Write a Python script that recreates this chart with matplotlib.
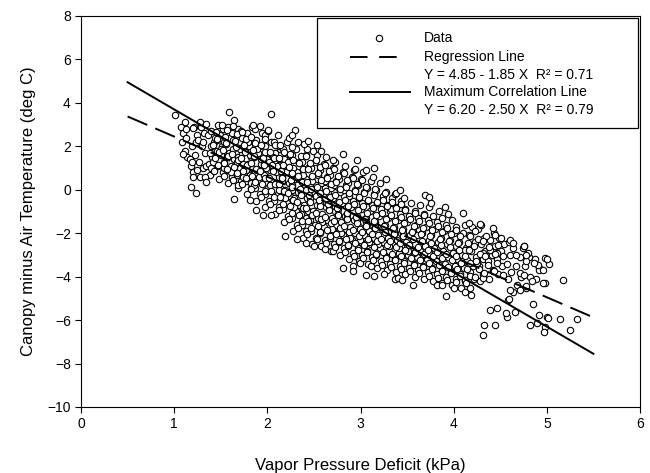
import matplotlib
matplotlib.use("Agg")
import matplotlib.pyplot as plt
from matplotlib.patches import Rectangle
from matplotlib.lines import Line2D

plt.rcParams['font.family'] = ['Liberation Sans', 'DejaVu Sans']

# vapor pressure deficit (kPa)
vpd = [
    1.08, 1.12, 1.10, 1.14, 1.07, 1.13,
    1.18, 1.22, 1.19, 1.24, 1.21, 1.17, 1.23, 1.20,
    1.28, 1.31, 1.27, 1.33, 1.30, 1.26, 1.32, 1.29, 1.34, 1.31,
    1.38, 1.42, 1.37, 1.41, 1.44, 1.39, 1.43, 1.36, 1.40, 1.42, 1.38, 1.44,
    1.48, 1.52, 1.47, 1.53, 1.50, 1.46, 1.51, 1.54, 1.49, 1.52, 1.47, 1.53, 1.50, 1.46,
    1.58, 1.62, 1.57, 1.61, 1.64, 1.59, 1.63, 1.56, 1.60, 1.62, 1.58, 1.64, 1.57, 1.61, 1.63,
    1.68, 1.72, 1.67, 1.71, 1.74, 1.69, 1.73, 1.66, 1.70, 1.72, 1.68, 1.74, 1.67, 1.71, 1.73, 1.69,
    1.78, 1.82, 1.77, 1.81, 1.84, 1.79, 1.83, 1.76, 1.80, 1.82, 1.78, 1.84, 1.77, 1.81, 1.83, 1.79,
    1.88, 1.92, 1.87, 1.91, 1.94, 1.89, 1.93, 1.86, 1.90, 1.92, 1.88, 1.94, 1.87, 1.91, 1.93, 1.89, 1.86,
    1.98, 2.02, 1.97, 2.01, 2.04, 1.99, 2.03, 1.96, 2.00, 2.02, 1.98, 2.04, 1.97, 2.01, 2.03, 1.99, 2.02, 1.96,
    2.08, 2.12, 2.07, 2.11, 2.14, 2.09, 2.13, 2.06, 2.10, 2.12, 2.08, 2.14, 2.07, 2.11, 2.13, 2.09, 2.06, 2.12,
    2.18, 2.22, 2.17, 2.21, 2.24, 2.19, 2.23, 2.16, 2.20, 2.22, 2.18, 2.24, 2.17, 2.21, 2.23, 2.19, 2.16, 2.22,
    2.28, 2.32, 2.27, 2.31, 2.34, 2.29, 2.33, 2.26, 2.30, 2.32, 2.28, 2.34, 2.27, 2.31, 2.33, 2.29, 2.26, 2.32,
    2.38, 2.42, 2.37, 2.41, 2.44, 2.39, 2.43, 2.36, 2.40, 2.42, 2.38, 2.44, 2.37, 2.41, 2.43, 2.39, 2.36, 2.42,
    2.48, 2.52, 2.47, 2.51, 2.54, 2.49, 2.53, 2.46, 2.50, 2.52, 2.48, 2.54, 2.47, 2.51, 2.53, 2.49, 2.46, 2.52,
    2.58, 2.62, 2.57, 2.61, 2.64, 2.59, 2.63, 2.56, 2.60, 2.62, 2.58, 2.64, 2.57, 2.61, 2.63, 2.59, 2.56, 2.62,
    2.68, 2.72, 2.67, 2.71, 2.74, 2.69, 2.73, 2.66, 2.70, 2.72, 2.68, 2.74, 2.67, 2.71, 2.73, 2.69, 2.66, 2.72,
    2.78, 2.82, 2.77, 2.81, 2.84, 2.79, 2.83, 2.76, 2.80, 2.82, 2.78, 2.84, 2.77, 2.81, 2.83, 2.79, 2.76, 2.82,
    2.88, 2.92, 2.87, 2.91, 2.94, 2.89, 2.93, 2.86, 2.90, 2.92, 2.88, 2.94, 2.87, 2.91, 2.93, 2.89, 2.86,
    2.98, 3.02, 2.97, 3.01, 3.04, 2.99, 3.03, 2.96, 3.00, 3.02, 2.98, 3.04, 2.97, 3.01, 3.03, 2.99, 2.96,
    3.08, 3.12, 3.07, 3.11, 3.14, 3.09, 3.13, 3.06, 3.10, 3.12, 3.08, 3.14, 3.07, 3.11, 3.13, 3.09, 3.06,
    3.18, 3.22, 3.17, 3.21, 3.24, 3.19, 3.23, 3.16, 3.20, 3.22, 3.18, 3.24, 3.17, 3.21, 3.19, 3.16,
    3.28, 3.32, 3.27, 3.31, 3.34, 3.29, 3.33, 3.26, 3.30, 3.32, 3.28, 3.34, 3.27, 3.31, 3.26, 3.33,
    3.38, 3.42, 3.37, 3.41, 3.44, 3.39, 3.43, 3.36, 3.40, 3.42, 3.38, 3.44, 3.37, 3.41, 3.36,
    3.48, 3.52, 3.47, 3.51, 3.54, 3.49, 3.53, 3.46, 3.50, 3.52, 3.48, 3.54, 3.47, 3.51, 3.46,
    3.58, 3.62, 3.57, 3.61, 3.64, 3.59, 3.63, 3.56, 3.60, 3.62, 3.58, 3.64, 3.57, 3.61,
    3.68, 3.72, 3.67, 3.71, 3.74, 3.69, 3.73, 3.66, 3.70, 3.72, 3.68, 3.74, 3.67,
    3.78, 3.82, 3.77, 3.81, 3.84, 3.79, 3.83, 3.76, 3.80, 3.82, 3.78, 3.84,
    3.88, 3.92, 3.87, 3.91, 3.94, 3.89, 3.93, 3.86, 3.90, 3.92, 3.88, 3.94,
    3.98, 4.02, 3.97, 4.01, 4.04, 3.99, 4.03, 3.96, 4.00, 4.02, 3.98,
    4.08, 4.12, 4.07, 4.11, 4.14, 4.09, 4.13, 4.06, 4.10, 4.12,
    4.18, 4.22, 4.17, 4.21, 4.24, 4.19, 4.23, 4.16, 4.20,
    4.28, 4.32, 4.27, 4.31, 4.34, 4.29, 4.33, 4.26,
    4.38, 4.42, 4.37, 4.41, 4.44, 4.39, 4.43,
    4.48, 4.52, 4.47, 4.51, 4.54, 4.49,
    4.58, 4.62, 4.57, 4.61, 4.64, 4.59,
    4.68, 4.72, 4.67, 4.71, 4.74,
    4.78, 4.82, 4.77, 4.81,
    4.88, 4.92, 4.87,
    4.98, 5.02,
    # scattered points outside the main band
    1.01, 1.12, 1.13, 1.20, 1.28, 1.34, 1.59, 1.51, 1.63, 1.09,
    1.19, 1.39, 1.33, 1.34, 1.20, 1.18, 1.23, 1.64, 1.25,
    2.04, 1.72, 1.85, 1.92, 2.01, 2.30, 2.26, 2.44, 2.53, 2.58,
    2.81, 2.71, 2.96, 3.15, 3.06, 2.94, 3.27, 3.38,
    1.81, 1.88, 1.95, 2.04, 2.19, 2.32, 2.41, 2.50, 2.62, 2.71,
    2.81, 2.92, 2.92, 3.06, 3.15, 3.25, 3.37, 3.11, 2.99,
    3.42, 3.69, 3.74, 3.76, 3.91, 4.10, 4.16, 3.40, 3.45, 3.56,
    3.82, 3.87, 3.92, 4.00, 4.12, 4.19,
    4.29, 4.23, 4.42, 4.35, 4.44, 4.51, 4.60, 4.64, 4.76, 4.80,
    4.98, 4.92, 4.78, 4.71, 4.53, 4.46, 4.39, 4.32, 4.17, 4.14,
    4.25, 4.32, 4.42, 4.53, 4.12, 4.64, 4.60, 4.58, 4.71, 4.85,
    4.39, 4.46, 4.33, 4.44, 4.32, 4.82, 4.89, 4.98, 4.92, 5.00,
    5.17, 5.00, 4.96, 5.14, 5.32, 5.25, 4.97, 4.57, 4.56, 4.66,
    4.59, 4.78, 4.75, 4.91, 4.96, 4.86, 4.78, 4.75, 4.67, 4.84,
    4.28, 4.12, 5.01,
]

# canopy minus air temperature (deg C)
dtemp = [
    2.2, 1.8, 2.6, 1.5, 2.9, 2.4,
    1.1, 1.6, 2.0, 2.5, 2.9, 1.4, 2.2, 0.8,
    0.6, 1.0, 1.3, 1.7, 2.0, 2.3, 2.6, 2.9, 1.1, 2.2,
    0.7, 0.9, 1.2, 1.5, 1.8, 2.0, 2.2, 2.5, 2.7, 1.3, 1.7, 2.4,
    0.5, 0.8, 1.1, 1.3, 1.6, 1.8, 2.0, 2.2, 2.5, 2.8, 3.0, 1.0, 1.9, 2.3,
    0.3, 0.6, 0.9, 1.1, 1.4, 1.7, 1.9, 2.1, 2.4, 2.6, 2.9, 3.2, 1.5, 0.8, 2.3,
    0.1, 0.4, 0.7, 1.0, 1.2, 1.5, 1.7, 2.0, 2.2, 2.5, 2.8, 0.6, 1.3, 1.9, 2.4, 0.2,
    -0.2, 0.1, 0.4, 0.7, 1.0, 1.2, 1.5, 1.8, 2.0, 2.3, 2.6, 2.9, 0.9, 1.6, 0.3, 2.2,
    -0.5, -0.2, 0.1, 0.4, 0.7, 0.9, 1.2, 1.5, 1.7, 2.0, 2.3, 2.6, 2.8, 0.6, 1.4, 1.9, 0.2,
    -0.8, -0.5, -0.2, 0.1, 0.4, 0.6, 0.9, 1.2, 1.4, 1.7, 2.0, 2.2, 2.5, 2.7, 0.2, 1.0, 1.3, 0.7,
    -1.1, -0.8, -0.5, -0.2, 0.1, 0.3, 0.6, 0.9, 1.1, 1.4, 1.7, 1.9, 2.2, 2.5, 0.0, 0.8, 1.5, 2.0,
    -1.5, -1.2, -0.9, -0.6, -0.3, 0.0, 0.3, 0.6, 0.8, 1.1, 1.4, 1.6, 1.9, 2.2, 2.4, -0.4, 0.4, 1.3,
    -1.9, -1.6, -1.3, -1.0, -0.7, -0.4, -0.1, 0.2, 0.5, 0.8, 1.0, 1.3, 1.6, 1.9, 2.2, -0.8, 0.0, 0.6,
    -2.2, -1.9, -1.6, -1.3, -1.0, -0.7, -0.4, -0.1, 0.2, 0.5, 0.7, 1.0, 1.3, 1.6, 1.9, 2.1, -1.1, 0.0,
    -2.5, -2.2, -1.9, -1.6, -1.3, -1.0, -0.7, -0.4, -0.1, 0.2, 0.4, 0.7, 1.0, 1.3, 1.6, 1.8, -1.4, -0.3,
    -2.6, -2.3, -2.0, -1.7, -1.4, -1.1, -0.8, -0.5, -0.2, 0.1, 0.3, 0.6, 0.9, 1.2, 1.5, -1.5, -0.6, 0.4,
    -2.8, -2.5, -2.2, -1.9, -1.6, -1.3, -1.0, -0.7, -0.4, -0.1, 0.1, 0.4, 0.7, 1.0, 1.3, -1.8, -0.9, 0.2,
    -3.0, -2.7, -2.4, -2.1, -1.8, -1.5, -1.2, -0.9, -0.6, -0.3, -0.1, 0.2, 0.5, 0.8, 1.1, -2.0, -1.1, 0.0,
    -3.2, -2.9, -2.6, -2.3, -2.0, -1.7, -1.4, -1.1, -0.8, -0.5, -0.3, 0.0, 0.3, 0.6, 0.9, -2.2, -1.3,
    -3.3, -3.0, -2.7, -2.4, -2.1, -1.8, -1.5, -1.2, -0.9, -0.6, -0.4, -0.1, 0.2, 0.5, 0.8, -2.3, -1.4,
    -3.4, -3.1, -2.8, -2.5, -2.2, -1.9, -1.6, -1.3, -1.0, -0.7, -0.5, -0.2, 0.1, 0.4, 0.6, -2.4, -1.5,
    -3.6, -3.3, -3.0, -2.7, -2.4, -2.1, -1.8, -1.5, -1.2, -0.9, -0.6, -0.3, 0.0, 0.3, -2.5, -1.6,
    -3.7, -3.4, -3.1, -2.8, -2.5, -2.2, -1.9, -1.6, -1.3, -1.0, -0.7, -0.4, -0.1, -2.6, -1.8, -0.9,
    -3.8, -3.5, -3.2, -2.9, -2.6, -2.3, -2.0, -1.7, -1.4, -1.1, -0.8, -0.5, -0.2, -2.7, -1.9,
    -3.9, -3.6, -3.3, -3.0, -2.7, -2.4, -2.1, -1.8, -1.5, -1.2, -0.9, -0.6, -0.4, -2.8, -2.0,
    -4.0, -3.7, -3.4, -3.1, -2.8, -2.5, -2.2, -1.9, -1.6, -1.3, -1.0, -0.7, -2.9, -2.1,
    -4.1, -3.8, -3.5, -3.2, -2.9, -2.6, -2.3, -2.0, -1.7, -1.4, -1.1, -0.8, -3.0,
    -4.2, -3.9, -3.6, -3.3, -3.0, -2.7, -2.4, -2.1, -1.8, -1.5, -1.2, -1.0,
    -4.3, -4.0, -3.7, -3.4, -3.1, -2.8, -2.5, -2.2, -1.9, -1.6, -1.3, -1.1,
    -4.4, -4.1, -3.8, -3.5, -3.2, -2.9, -2.6, -2.3, -2.0, -1.7, -1.4,
    -4.5, -4.2, -3.9, -3.6, -3.3, -3.0, -2.7, -2.4, -2.0, -1.6,
    -4.5, -4.1, -3.8, -3.5, -3.1, -2.8, -2.4, -2.1, -1.7,
    -4.2, -3.9, -3.5, -3.2, -2.8, -2.5, -2.2, -1.8,
    -4.1, -3.7, -3.3, -3.0, -2.6, -2.3, -2.0,
    -3.9, -3.5, -3.2, -2.8, -2.5, -2.2,
    -4.1, -3.8, -3.4, -3.0, -2.7, -2.4,
    -4.4, -4.0, -3.5, -3.1, -2.7,
    -4.5, -4.0, -3.5, -3.1,
    -4.1, -3.6, -3.2,
    -4.3, -3.4,
    # scattered points outside the main band
    3.46, 3.10, 2.81, 2.84, 3.10, 3.04, 3.56, 3.00, 2.95, 1.66,
    1.26, 1.00, 0.58, 0.38, 0.58, 0.15, -0.15, -0.43, 0.92,
    3.50, 2.69, 3.00, 2.92, 2.76, 2.76, 2.53, 2.23, 2.07, 1.77,
    1.66, 1.38, 1.35, 1.00, 0.92, 0.95, 0.49, -0.15,
    -0.46, -0.92, -1.15, -1.15, -2.12, -2.27, -2.46, -2.61, -2.73, -2.84,
    -3.61, -3.50, -3.76, -3.92, -3.96, -3.87, -4.10, -3.53, -3.38,
    0.00, -0.23, -0.31, -0.61, -0.77, -1.07, -1.52, -4.07, -4.15, -4.38,
    -4.38, -4.38, -4.88, -4.50, -4.69, -4.84,
    -1.61, -1.92, -1.77, -2.15, -2.07, -2.23, -2.30, -2.46, -2.61, -2.92,
    -3.15, -3.69, -3.30, -3.84, -3.07, -2.92, -2.76, -2.92, -2.61, -3.23,
    -3.38, -4.07, -3.76, -3.92, -4.15, -4.69, -4.61, -5.07, -4.61, -5.25,
    -5.53, -5.45, -6.22, -6.22, -6.68, -6.22, -6.14, -6.30, -5.76, -5.87,
    -4.15, -3.20, -4.30, -5.96, -5.96, -6.45, -6.53, -5.84, -5.69, -5.61,
    -5.04, -4.45, -3.92, -3.46, -3.69, -3.35, -3.00, -2.61, -3.00, -4.22,
    -1.57, -2.76, -5.91,
]

# points packed into the core of the band (between the columns above)
vpd_core = [
    1.43, 1.47, 1.44, 1.48, 1.42, 1.46, 1.45,
    1.53, 1.57, 1.54, 1.58, 1.52, 1.56, 1.55, 1.57,
    1.63, 1.67, 1.64, 1.68, 1.62, 1.66, 1.65, 1.67,
    1.73, 1.77, 1.74, 1.78, 1.72, 1.76, 1.75, 1.77, 1.73,
    1.83, 1.87, 1.84, 1.88, 1.82, 1.86, 1.85, 1.87, 1.83,
    1.93, 1.97, 1.94, 1.98, 1.92, 1.96, 1.95, 1.97, 1.93, 1.98,
    2.03, 2.07, 2.04, 2.08, 2.02, 2.06, 2.05, 2.07, 2.03, 2.08,
    2.13, 2.17, 2.14, 2.18, 2.12, 2.16, 2.15, 2.17, 2.13, 2.18, 2.14,
    2.23, 2.27, 2.24, 2.28, 2.22, 2.26, 2.25, 2.27, 2.23, 2.28, 2.24, 2.26,
    2.33, 2.37, 2.34, 2.38, 2.32, 2.36, 2.35, 2.37, 2.33, 2.38, 2.34, 2.36,
    2.43, 2.47, 2.44, 2.48, 2.42, 2.46, 2.45, 2.47, 2.43, 2.48, 2.44, 2.46, 2.42,
    2.53, 2.57, 2.54, 2.58, 2.52, 2.56, 2.55, 2.57, 2.53, 2.58, 2.54, 2.56, 2.52,
    2.63, 2.67, 2.64, 2.68, 2.62, 2.66, 2.65, 2.67, 2.63, 2.68, 2.64, 2.66, 2.62,
    2.73, 2.77, 2.74, 2.78, 2.72, 2.76, 2.75, 2.77, 2.73, 2.78, 2.74, 2.76, 2.72,
    2.83, 2.87, 2.84, 2.88, 2.82, 2.86, 2.85, 2.87, 2.83, 2.88, 2.84, 2.86, 2.82,
    2.93, 2.97, 2.94, 2.98, 2.92, 2.96, 2.95, 2.97, 2.93, 2.98, 2.94, 2.96, 2.92,
    3.03, 3.07, 3.04, 3.08, 3.02, 3.06, 3.05, 3.07, 3.03, 3.08, 3.04, 3.06, 3.02,
    3.13, 3.17, 3.14, 3.18, 3.12, 3.16, 3.15, 3.17, 3.13, 3.18, 3.14, 3.16,
    3.23, 3.27, 3.24, 3.28, 3.22, 3.26, 3.25, 3.27, 3.23, 3.28, 3.24, 3.26,
    3.33, 3.37, 3.34, 3.38, 3.32, 3.36, 3.35, 3.37, 3.33, 3.38, 3.34,
    3.43, 3.47, 3.44, 3.48, 3.42, 3.46, 3.45, 3.47, 3.43, 3.48, 3.44,
    3.53, 3.57, 3.54, 3.58, 3.52, 3.56, 3.55, 3.57, 3.53, 3.58,
    3.63, 3.67, 3.64, 3.68, 3.62, 3.66, 3.65, 3.67, 3.63, 3.68,
    3.73, 3.77, 3.74, 3.78, 3.72, 3.76, 3.75, 3.77, 3.73,
    3.83, 3.87, 3.84, 3.88, 3.82, 3.86, 3.85, 3.87, 3.83,
    3.93, 3.97, 3.94, 3.98, 3.92, 3.96, 3.95, 3.97, 3.93,
    4.03, 4.07, 4.04, 4.08, 4.02, 4.06, 4.05, 4.07, 4.03,
    4.13, 4.17, 4.14, 4.18, 4.12, 4.16, 4.15, 4.17,
    4.23, 4.27, 4.24, 4.28, 4.22, 4.26,
    4.33, 4.37, 4.34, 4.38, 4.32,
    4.43, 4.47, 4.44, 4.48,
]
dtemp_core = [
    0.85, 1.15, 1.45, 1.75, 2.05, 2.35, 2.65,
    0.65, 0.95, 1.25, 1.55, 1.85, 2.15, 2.45, 2.75,
    0.45, 0.75, 1.05, 1.35, 1.65, 1.95, 2.25, 2.55,
    0.25, 0.55, 0.85, 1.15, 1.45, 1.75, 2.05, 2.35, 2.65,
    0.05, 0.35, 0.65, 0.95, 1.25, 1.55, 1.85, 2.15, 2.45,
    -0.35, -0.05, 0.25, 0.55, 0.85, 1.15, 1.45, 1.75, 2.05, 2.35,
    -0.65, -0.35, -0.05, 0.25, 0.55, 0.85, 1.15, 1.45, 1.75, 2.05,
    -0.95, -0.65, -0.35, -0.05, 0.25, 0.55, 0.85, 1.15, 1.45, 1.75, 2.05,
    -1.35, -1.05, -0.75, -0.45, -0.15, 0.15, 0.45, 0.75, 1.05, 1.35, 1.65, 1.95,
    -1.75, -1.45, -1.15, -0.85, -0.55, -0.25, 0.05, 0.35, 0.65, 0.95, 1.25, 1.55,
    -2.05, -1.75, -1.45, -1.15, -0.85, -0.55, -0.25, 0.05, 0.35, 0.65, 0.95, 1.25, 1.55,
    -2.25, -1.95, -1.65, -1.35, -1.05, -0.75, -0.45, -0.15, 0.15, 0.45, 0.75, 1.05, 1.35,
    -2.45, -2.15, -1.85, -1.55, -1.25, -0.95, -0.65, -0.35, -0.05, 0.25, 0.55, 0.85, 1.15,
    -2.65, -2.35, -2.05, -1.75, -1.45, -1.15, -0.85, -0.55, -0.25, 0.05, 0.35, 0.65, 0.95,
    -2.85, -2.55, -2.25, -1.95, -1.65, -1.35, -1.05, -0.75, -0.45, -0.15, 0.15, 0.45, 0.75,
    -3.05, -2.75, -2.45, -2.15, -1.85, -1.55, -1.25, -0.95, -0.65, -0.35, -0.05, 0.25, 0.55,
    -3.15, -2.85, -2.55, -2.25, -1.95, -1.65, -1.35, -1.05, -0.75, -0.45, -0.15, 0.15, 0.45,
    -3.25, -2.95, -2.65, -2.35, -2.05, -1.75, -1.45, -1.15, -0.85, -0.55, -0.25, 0.05,
    -3.45, -3.15, -2.85, -2.55, -2.25, -1.95, -1.65, -1.35, -1.05, -0.75, -0.45, -0.15,
    -3.55, -3.25, -2.95, -2.65, -2.35, -2.05, -1.75, -1.45, -1.15, -0.85, -0.55,
    -3.65, -3.35, -3.05, -2.75, -2.45, -2.15, -1.85, -1.55, -1.25, -0.95, -0.65,
    -3.75, -3.45, -3.15, -2.85, -2.55, -2.25, -1.95, -1.65, -1.35, -1.05,
    -3.85, -3.55, -3.25, -2.95, -2.65, -2.35, -2.05, -1.75, -1.45, -1.15,
    -3.95, -3.65, -3.35, -3.05, -2.75, -2.45, -2.15, -1.85, -1.55,
    -4.05, -3.75, -3.45, -3.15, -2.85, -2.55, -2.25, -1.95, -1.65,
    -4.15, -3.85, -3.55, -3.25, -2.95, -2.65, -2.35, -2.05, -1.75,
    -4.25, -3.95, -3.65, -3.35, -3.05, -2.75, -2.45, -2.15, -1.85,
    -4.30, -3.95, -3.65, -3.35, -3.05, -2.75, -2.45, -2.15,
    -4.00, -3.65, -3.30, -2.95, -2.60, -2.25,
    -3.85, -3.45, -3.05, -2.65, -2.35,
    -3.75, -3.35, -2.95, -2.55,
]

# fitted lines (x range and coefficients as drawn)
line_x = [0.5, 5.5]
reg_int, reg_slope = 4.30, -1.85      # dashed line as it sits on the plot
maxc_int, maxc_slope = 6.20, -2.50

legend_labels = ['Data', 'Regression Line', 'Y = 4.85 - 1.85 X  R\u00b2 = 0.71',
                 'Maximum Correlation Line', 'Y = 6.20 - 2.50 X  R\u00b2 = 0.79']

W, H = 650, 473
fig = plt.figure(figsize=(W / 100, H / 100), dpi=100)
ax = fig.add_axes([81 / W, 1 - 407 / H, 559 / W, 391 / H])

mk = dict(ls='none', marker='o', mfc='white', mec='black', ms=4.6, mew=0.8)
ax.plot(vpd + vpd_core, dtemp + dtemp_core, zorder=2, **mk)

reg_y = [reg_int + reg_slope * x for x in line_x]
maxc_y = [maxc_int + maxc_slope * x for x in line_x]
ax.plot(line_x, reg_y, color='black', lw=1.4, dashes=(11, 4.5), zorder=3)
ax.plot(line_x, maxc_y, color='black', lw=1.4, zorder=3)

ax.set_xlim(0, 6)
ax.set_ylim(-10, 8)
ax.set_xticks(range(0, 7))
ax.set_yticks(range(-10, 9, 2))
ax.tick_params(direction='out', length=4.3, width=0.8, labelsize=10, pad=3)
for s in ax.spines.values():
    s.set_linewidth(0.8)

ax.set_xlabel('Vapor Pressure Deficit (kPa)', fontsize=12)
ax.set_ylabel('Canopy minus Air Temperature (deg C)', fontsize=12)
ax.xaxis.set_label_coords(0.5, (407 - 458) / 391)
ax.yaxis.set_label_coords((36 - 81) / 559, 0.5)

# legend box drawn by hand (pixel positions)
def fx(px):
    return px / W

def fy(py):
    return 1 - py / H

tf = fig.transFigure
fig.patches.append(Rectangle((fx(317), fy(128)), (638 - 317) / W, 110 / H, transform=tf,
                             facecolor='white', edgecolor='black', lw=0.9, zorder=5))
row_y = [38, 57, 75, 92, 110]
fig.lines.append(Line2D([fx(379)], [fy(row_y[0])], transform=tf, zorder=6, **mk))
fig.lines.append(Line2D([fx(350), fx(402)], [fy(row_y[1])] * 2, transform=tf, color='black',
                        lw=1.4, dashes=(9, 6), zorder=6))
fig.lines.append(Line2D([fx(350), fx(410)], [fy(row_y[3])] * 2, transform=tf, color='black',
                        lw=1.4, zorder=6))
for lab, yy in zip(legend_labels, row_y):
    fig.text(fx(424), fy(yy), lab, fontsize=10, va='center', ha='left', zorder=7)

fig.savefig('out.png', dpi=100)
